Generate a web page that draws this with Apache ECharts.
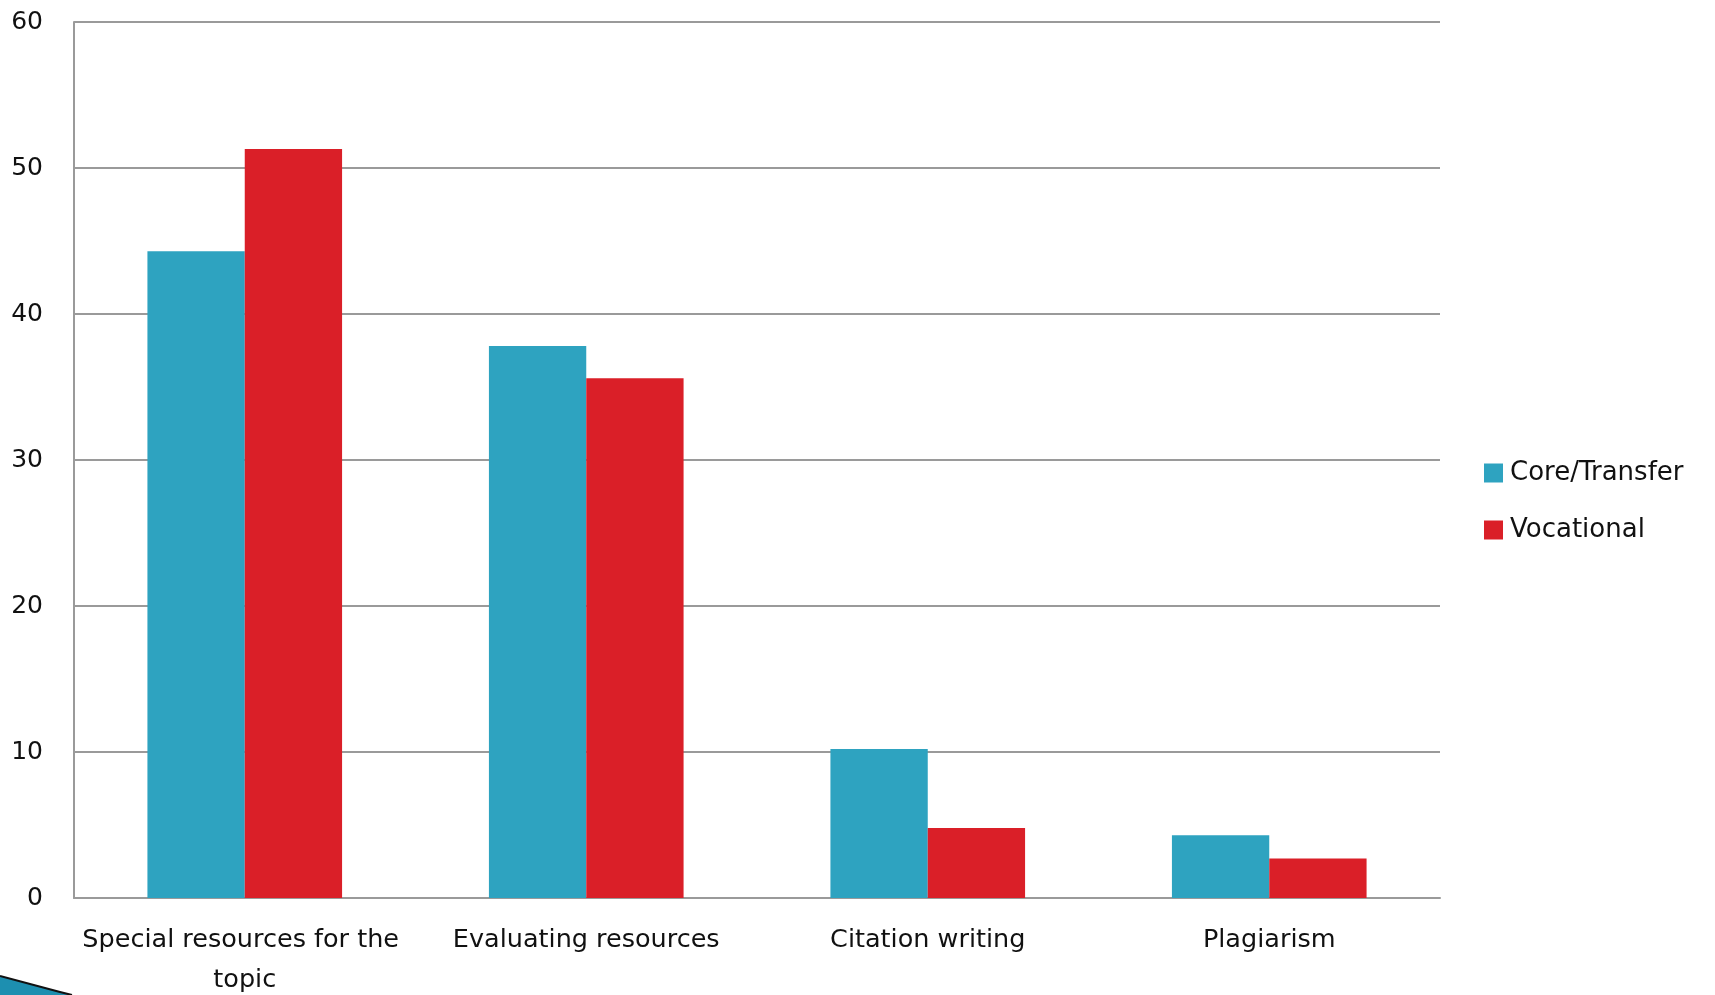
<!DOCTYPE html>
<html>
<head>
<meta charset="utf-8">
<script src="https://cdn.jsdelivr.net/npm/echarts@6/dist/echarts.min.js"></script>
<style>
html,body{margin:0;padding:0;background:#fff;}
#chart{width:1715px;height:995px;}
</style>
</head>
<body>
<div id="chart"></div>
<script>
const categories = ['Special resources for the topic', 'Evaluating resources', 'Citation writing', 'Plagiarism'];
const coreTransfer = [44.3, 37.8, 10.2, 4.3];
const vocational = [51.3, 35.6, 4.8, 2.7];
const seriesNames = ['Core/Transfer', 'Vocational'];
const yTicks = [0, 10, 20, 30, 40, 50, 60];

const font = 'DejaVu Sans';
const chart = echarts.init(document.getElementById('chart'), null, {renderer: 'canvas'});
chart.setOption({
  animation: false,
  backgroundColor: '#ffffff',
  grid: {left: 74, right: 275, top: 22, bottom: 97, containLabel: false, outerBoundsMode: 'none'},
  legend: {
    orient: 'vertical',
    left: 1484,
    top: 460,
    padding: 0,
    itemWidth: 19,
    itemHeight: 19,
    itemGap: 31,
    icon: 'rect',
    textStyle: {fontFamily: font, fontSize: 26, color: '#111', padding: [0, 0, 0, 2]},
    data: seriesNames
  },
  xAxis: {
    type: 'category',
    data: categories,
    axisLine: {show: true, lineStyle: {color: '#9a9a9a', width: 2}},
    axisTick: {show: false},
    axisLabel: {
      interval: 0,
      margin: 22,
      fontFamily: font,
      fontSize: 25.5,
      color: '#111',
      lineHeight: 40,
      width: 330,
      overflow: 'break'
    }
  },
  yAxis: {
    type: 'value',
    min: yTicks[0],
    max: yTicks[yTicks.length - 1],
    interval: 10,
    axisLine: {show: true, lineStyle: {color: '#9a9a9a', width: 2}},
    axisTick: {show: false},
    splitLine: {show: true, lineStyle: {color: '#9a9a9a', width: 2}},
    axisLabel: {fontFamily: font, fontSize: 25, color: '#111', margin: 31, verticalAlign: 'middle', lineHeight: 30, padding: [0, 0, 5, 0]}
  },
  series: [
    {
      name: seriesNames[0],
      type: 'bar',
      data: coreTransfer,
      barGap: '0%',
      barCategoryGap: '43%',
      itemStyle: {color: '#2ea3c0'}
    },
    {
      name: seriesNames[1],
      type: 'bar',
      data: vocational,
      barGap: '0%',
      barCategoryGap: '43%',
      itemStyle: {color: '#da1f28'}
    }
  ],
  graphic: [
    {
      type: 'polygon',
      shape: {points: [[0, 976], [72, 995], [0, 995]]},
      style: {fill: '#1d8fb0'}
    },
    {
      type: 'polyline',
      shape: {points: [[0, 976], [60, 992], [72, 995]]},
      style: {stroke: '#111', lineWidth: 2, fill: null}
    }
  ]
});
</script>
</body>
</html>
